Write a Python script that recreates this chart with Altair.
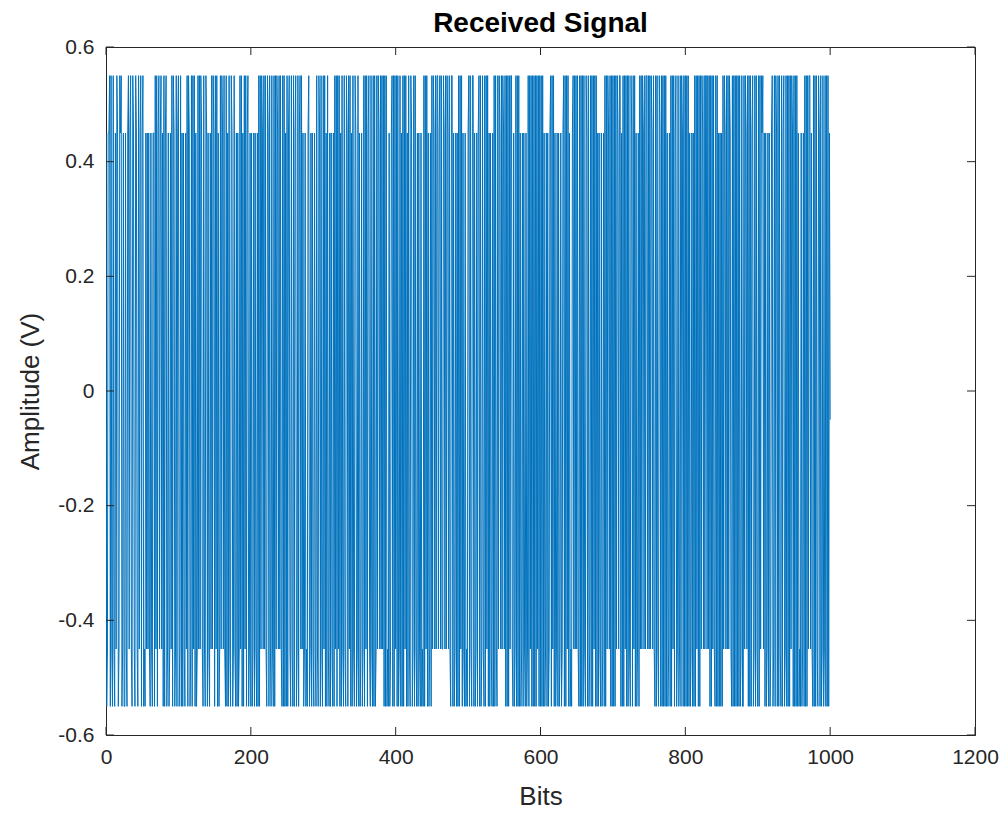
import altair as alt
import pandas as pd

# Received symbols, one character per bit
# P = 0.55, p = 0.45, n = -0.45, N = -0.55
SYMBOL_ROWS = [
    "pNnppPNPnN" "PnNpnPpNnP" "pPNnpNNpnN" "pPnpPnNPpn" "NPpnNPnpPN",
    "pPNnNpnpnp" "nNpnNppNPn" "PNpPnpPnpN" "PNpPNnpNnp" "nPNPpNnPNp",
    "PNnPNpNpnN" "pnPNPpNnPN" "PnPNpNnPnP" "nPpnNPnNPp" "NpnNpnPnPp",
    "NPnPNpNnPn" "PpnPnNPNpN" "PnNPpNnPnN" "pNpNnPnPNp" "NPnPNpPNnp",
    "NpNnpNpnNp" "NPNPnPpnPn" "PnNPpNPnNP" "nNPNPnPpnP" "nPnNPNPNpN",
    "PNpPnNPnNP" "NpPNnPNpPn" "PnpNnpNnNp" "PNnpNpnNpn" "NPnNPpNPnN",
    "PnPNpNPnNp" "NpnNpNPnPN" "PnPNpNPnNP" "nNPpNPnPNp" "NPnNPpNnPN",
    "pNnpNnPNPn" "PNpPnNPnNP" "NPNnPnPpnP" "nPnPNPNPNn" "NpNnpPNPNP",
    "nPNPNnPNpN" "PNPnPNpNPn" "NPpNnPNPnN" "pNpnNpNnNP" "NPnPNpNnpN",
    "PnPpnPnPPn" "pPnPnnPpnP" "nPpnPnNPPN" "pNnpNpNPNP" "nPNpnNpNnN",
    "pPNPnNPPNp" "NnpNpPNPNn" "PnNPNPnPNp" "NpnNpNPNPn" "NPnPpnPnPp",
    "nPNPNPNPnP" "PnNpNnPNPN" "PNpNnpNpnN" "pNnPNPnPNP" "NPNPNPnPNP",
    "NPNPNpNnpN" "pNnpPNPnPN" "pNnpNpNnpN" "npPNPNPnPN" "pNnNpPnPnP",
    "nPnNPNPNPN" "PnNPpNPNnP" "NPNPnPNPNp" "NpnNpNnpNP" "NPnPpnPNPN",
    "PNPNPnPpnP" "PNpNPNPnPN" "PNPnNPpNPn" "PNpNnpNPnP" "nPpnPnPPnP",
    "nPnPpnPnNP" "NPnNPpNPNP" "NPNPNpNnpN" "PNPnPNpPNn" "PNnPNPpNPN",
    "PNPNPNpNnp" "NpNPNPnPNP" "NPnPpnPnPP" "nPnPNPNPnP" "nNPNPNpNpN",
    "pNPnPpnPnP" "nPpnNPNPNP" "NPNPNPNnPN" "NPnPpnPNPN" "PNpPNnPNPn",
    "NPNPnPpPnp" "NpNnpNpNnp" "PNnPNPpNPN" "PnNPNpPNnP" "NPNPNPnPpN",
    "PNPNPNpNnN" "pNnpNPNPNP" "nPPnpnNPNP" "NPnNPpNPNn" "PNnPNPNPNp",
]
LEVELS = {"P": 0.55, "p": 0.45, "n": -0.45, "N": -0.55}
FINAL_VALUE = -0.05

X_TICKS = [0, 200, 400, 600, 800, 1000, 1200]
Y_TICKS = [-0.6, -0.4, -0.2, 0, 0.2, 0.4, 0.6]

TITLE = "Received Signal"
X_TITLE = "Bits"
Y_TITLE = "Amplitude (V)"

symbols = "".join(SYMBOL_ROWS)
values = [LEVELS[c] for c in symbols] + [FINAL_VALUE]
df = pd.DataFrame({"bit": list(range(len(values))), "amp": values})

W, H = 869, 688
FONT = "Liberation Sans"
DARK = "#262626"

xscale = alt.Scale(domain=[0, 1200], nice=False, zero=False)
yscale = alt.Scale(domain=[-0.6, 0.6], nice=False, zero=False)

line = alt.Chart(df).mark_line(color="#0072BD", strokeWidth=1, clip=True).encode(
    x=alt.X("bit:Q", scale=xscale,
            axis=alt.Axis(values=X_TICKS, title=X_TITLE, ticks=False, grid=False,
                          labelFlush=False, labelOverlap=False,
                          labelPadding=11, titlePadding=16, format="d")),
    y=alt.Y("amp:Q", scale=yscale,
            axis=alt.Axis(values=Y_TICKS, title=Y_TITLE, ticks=False, grid=False,
                          labelFlush=False, labelOverlap=False,
                          labelPadding=12, titlePadding=14,
                          labelExpr="datum.value == 0 ? '0' : replace(format(datum.value, '.1f'), '\u2212', '-')")),
)

xt = pd.DataFrame({"t": X_TICKS})
yt = pd.DataFrame({"t": Y_TICKS})
tick_len = 8

xb = alt.Chart(xt).mark_rule(color=DARK, strokeWidth=1).encode(
    x=alt.X("t:Q", scale=xscale), y=alt.value(H), y2=alt.value(H - tick_len))
xtop = alt.Chart(xt).mark_rule(color=DARK, strokeWidth=1).encode(
    x=alt.X("t:Q", scale=xscale), y=alt.value(0), y2=alt.value(tick_len))
yl = alt.Chart(yt).mark_rule(color=DARK, strokeWidth=1).encode(
    y=alt.Y("t:Q", scale=yscale), x=alt.value(0), x2=alt.value(tick_len))
yr = alt.Chart(yt).mark_rule(color=DARK, strokeWidth=1).encode(
    y=alt.Y("t:Q", scale=yscale), x=alt.value(W - tick_len), x2=alt.value(W))

chart = alt.layer(line, xb, xtop, yl, yr).properties(
    width=W, height=H,
    title=alt.TitleParams(TITLE, font=FONT, fontSize=28, fontWeight="bold",
                          color="black", offset=0, dy=2, anchor="middle"),
    autosize=alt.AutoSizeParams(type="none"),
    padding={"left": 98, "top": 39, "right": 24, "bottom": 75},
    background="white",
).configure_view(
    stroke=DARK, strokeWidth=1
).configure_axis(
    labelFont=FONT, titleFont=FONT, labelFontSize=21, titleFontSize=26,
    labelColor=DARK, titleColor=DARK, domainColor=DARK, titleFontWeight="normal"
)

chart.save("out.html", embed_options={"renderer": "svg", "actions": False})
